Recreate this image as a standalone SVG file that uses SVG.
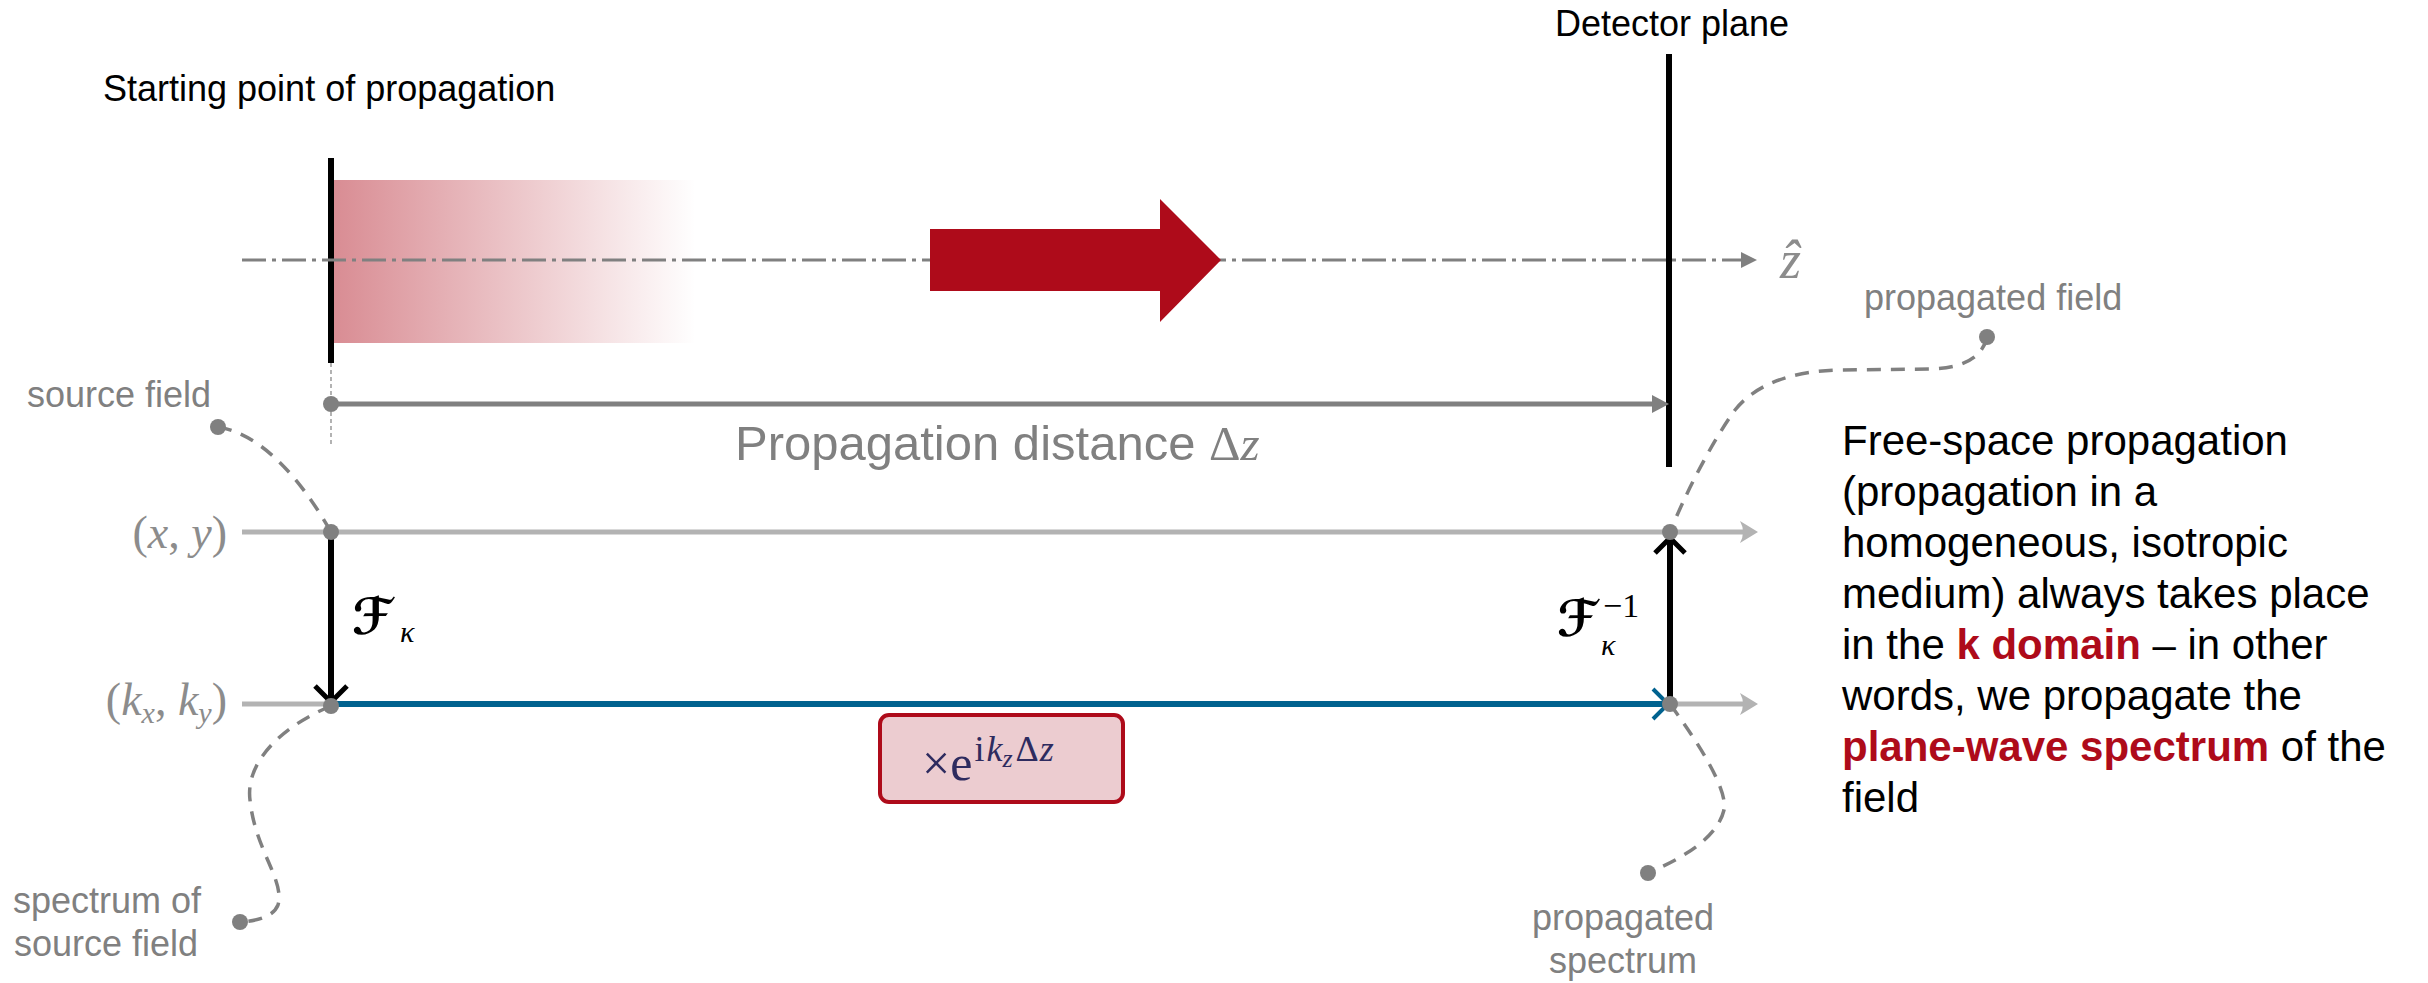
<svg xmlns="http://www.w3.org/2000/svg" width="2428" height="983" viewBox="0 0 2428 983">
<style>
.lbl{font-family:"Liberation Sans",Arial,sans-serif;font-size:36px;fill:#000}
.glbl{font-family:"Liberation Sans",Arial,sans-serif;font-size:36px;fill:#808080}
.para{font-family:"Liberation Sans",Arial,sans-serif;font-size:42px;fill:#000}
.hl{fill:#ae0b1a;font-weight:bold}
.math{font-family:"Liberation Serif","Times New Roman",serif;fill:#8c8c8c}
.mathk{font-family:"Liberation Serif","Times New Roman",serif;fill:#000}
.mathb{font-family:"Liberation Serif","Times New Roman",serif;fill:#2e2b5f}
.it{font-style:italic}
.scr{font-family:"DejaVu Serif","DejaVu Sans",serif;font-weight:bold;font-style:italic;fill:#000}
.dash{fill:none;stroke:#808080;stroke-width:3.5;stroke-dasharray:14 10}
.dot{fill:#808080}
.lg{stroke:#b3b3b3;stroke-width:5;fill:none}
</style>
<defs>
<linearGradient id="fade" x1="0" y1="0" x2="1" y2="0">
<stop offset="0" stop-color="#ae0b1a" stop-opacity="0.47"/>
<stop offset="1" stop-color="#ae0b1a" stop-opacity="0"/>
</linearGradient>
</defs>

<g id="beam">
<rect x="334" y="180" width="362" height="163" fill="url(#fade)"/>
</g>

<g id="source-plane">
<line x1="331" y1="158" x2="331" y2="363" stroke="#000" stroke-width="6"/>
<line x1="331" y1="363" x2="331" y2="447" stroke="#808080" stroke-width="1.2" stroke-dasharray="4 3"/>
<text class="lbl" x="103" y="101">Starting point of propagation</text>
</g>

<g id="detector-plane">
<line x1="1669" y1="54" x2="1669" y2="467" stroke="#000" stroke-width="6"/>
<text class="lbl" x="1555" y="36">Detector plane</text>
</g>

<g id="connectors">
<line x1="242" y1="260" x2="1742" y2="260" stroke="#808080" stroke-width="3" stroke-dasharray="24 6 4 6"/>
<polygon points="1741,252 1757,260 1741,268" fill="#808080"/>
<line x1="331" y1="404" x2="1655" y2="404" stroke="#808080" stroke-width="5"/>
<polygon points="1652,395 1669,404 1652,413" fill="#808080"/>
<line class="lg" x1="242" y1="532" x2="1748" y2="532"/>
<path d="M1758,532 L1740,521 Q1746,532 1740,543 Z" fill="#b3b3b3"/>
<line class="lg" x1="242" y1="704" x2="1748" y2="704"/>
<path d="M1758,704 L1740,693 Q1746,704 1740,715 Z" fill="#b3b3b3"/>
<line x1="331" y1="704" x2="1667" y2="704" stroke="#00628f" stroke-width="6"/>
<polyline points="1653,689 1668,704 1653,719" fill="none" stroke="#00628f" stroke-width="4"/>
<line x1="331" y1="532" x2="331" y2="700" stroke="#000" stroke-width="6"/>
<polyline points="315,686 331,702 347,686" fill="none" stroke="#000" stroke-width="5"/>
<line x1="1670" y1="704" x2="1670" y2="538" stroke="#000" stroke-width="6"/>
<polyline points="1655,553 1670,538 1685,553" fill="none" stroke="#000" stroke-width="5"/>
<path class="dash" d="M218,427 C250,432 290,460 331,532"/>
<path class="dash" d="M331,706 C285,725 245,760 250,800 C255,850 285,880 278,905 Q272,920 240,922"/>
<path class="dash" d="M1987,337 Q1980,368 1930,369 L1840,370 C1790,371 1755,385 1735,410 C1710,445 1685,495 1670,532"/>
<path class="dash" d="M1670,704 C1700,745 1728,790 1724,810 C1718,835 1690,855 1648,873"/>
</g>

<g id="dots">
<circle class="dot" cx="331" cy="404" r="8"/>
<circle class="dot" cx="331" cy="532" r="8"/>
<circle class="dot" cx="331" cy="706" r="8"/>
<circle class="dot" cx="1670" cy="532" r="8"/>
<circle class="dot" cx="1670" cy="704" r="8"/>
<circle class="dot" cx="218" cy="427" r="8"/>
<circle class="dot" cx="240" cy="922" r="8"/>
<circle class="dot" cx="1987" cy="337" r="8"/>
<circle class="dot" cx="1648" cy="873" r="8"/>
</g>

<g id="big-arrow">
<polygon points="930,229 1160,229 1160,199 1221,260 1160,322 1160,291 930,291" fill="#ae0b1a"/>
</g>

<g id="axis-label">
<text class="math it" x="1780" y="278" font-size="54">ẑ</text>
</g>

<g id="distance-label">
<text x="735" y="460" font-family="Liberation Sans,Arial,sans-serif" font-size="49" fill="#808080">Propagation distance <tspan font-family="Liberation Serif,serif">Δ</tspan><tspan font-family="Liberation Serif,serif" font-style="italic">z</tspan></text>
</g>

<g id="domain-labels">
<text class="math" x="227" y="548" font-size="46" text-anchor="end">(<tspan class="it">x</tspan>, <tspan class="it">y</tspan>)</text>
<text class="math" x="227" y="715" font-size="46" text-anchor="end">(<tspan class="it">k</tspan><tspan class="it" font-size="30" dy="8">x</tspan><tspan dy="-8">, </tspan><tspan class="it">k</tspan><tspan class="it" font-size="30" dy="8">y</tspan><tspan dy="-8">)</tspan></text>
</g>

<g id="fourier-labels">
<text class="scr" x="352" y="634" font-size="50">ℱ</text>
<text class="mathk it" x="400" y="642" font-size="30">κ</text>
<text class="scr" x="1557" y="636" font-size="50">ℱ</text>
<text class="mathk" x="1603" y="617" font-size="34">−1</text>
<text class="mathk it" x="1601" y="655" font-size="30">κ</text>
</g>

<g id="phase-box">
<rect x="880" y="715" width="243" height="87" rx="9" fill="#ecccd0" stroke="#ae0b1a" stroke-width="4"/>
<text class="mathb" x="922" y="780" font-size="50">×e<tspan font-size="36" dy="-19" dx="2">i</tspan><tspan class="it" font-size="36" dx="2">k</tspan><tspan class="it" font-size="26" dy="6">z</tspan><tspan font-size="36" dy="-6" dx="3">Δ</tspan><tspan class="it" font-size="36" dx="1">z</tspan></text>
</g>

<g id="callout-labels">
<text class="glbl" x="27" y="407">source field</text>
<text class="glbl" x="13" y="913">spectrum of</text>
<text class="glbl" x="14" y="956">source field</text>
<text class="glbl" x="1864" y="310">propagated field</text>
<text class="glbl" x="1623" y="930" text-anchor="middle">propagated</text>
<text class="glbl" x="1623" y="973" text-anchor="middle">spectrum</text>
</g>

<g id="explanation">
<text class="para" x="1842" y="455">Free-space propagation</text>
<text class="para" x="1842" y="506">(propagation in a</text>
<text class="para" x="1842" y="557">homogeneous, isotropic</text>
<text class="para" x="1842" y="608">medium) always takes place</text>
<text class="para" x="1842" y="659">in the <tspan class="hl">k domain</tspan> – in other</text>
<text class="para" x="1842" y="710">words, we propagate the</text>
<text class="para" x="1842" y="761"><tspan class="hl">plane-wave spectrum</tspan> of the</text>
<text class="para" x="1842" y="812">field</text>
</g>
</svg>
